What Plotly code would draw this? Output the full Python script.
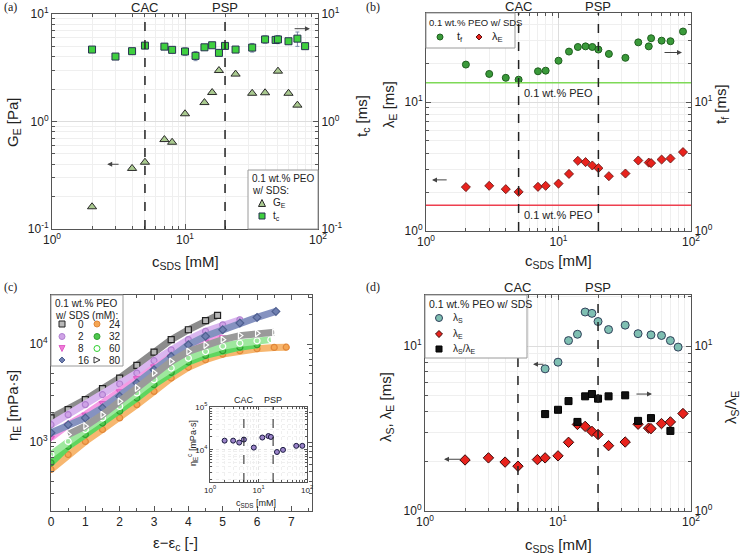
import math
import plotly.graph_objects as go

W, H = 740, 556

# ---------------- data (a) ----------------
a_ge_x = [2, 4, 5, 7, 8, 10, 14, 16, 18, 24, 32, 40, 50, 60, 70]
a_ge_y = [0.161, 0.366, 0.418, 0.679, 0.641, 1.18, 1.50, 1.86, 2.98, 2.76, 1.83, 1.85, 2.94, 1.83, 1.42]
a_tc_x = [2, 3, 4, 5, 7, 8, 10, 12, 14, 16, 18, 20, 24, 32, 40, 48, 50, 60, 70, 80]
a_tc_y = [4.67, 4.02, 4.51, 5.08, 4.97, 4.64, 4.48, 4.08, 4.90, 5.12, 4.35, 5.05, 4.67, 4.87, 5.80, 5.74, 5.80, 5.58, 5.90, 5.02]
a_tc_err = [0.1, 0.1, 0.1, 0.15, 0.1, 0.1, 0.35, 0.4, 0.1, 0.1, 0.1, 0.3, 0.15, 0.45, 0.45, 0.3, 0.5, 0.2, 0.9, 0.15]

# ---------------- data (b) ----------------
b_x = [2, 3, 4, 5, 7, 8, 10, 12, 14, 16, 18, 20, 24, 32, 40, 48, 50, 60, 70, 87]
b_tf = [19.5, 16.5, 15.4, 14.9, 17.3, 17.5, 20.9, 24.6, 26.7, 27.0, 26.7, 25.5, 23.6, 22.0, 29.0, 27.0, 31.2, 29.9, 29.6, 35.2]
b_lamE = [2.19, 2.24, 2.11, 2.01, 2.20, 2.24, 2.33, 2.77, 3.50, 3.42, 3.22, 3.07, 2.66, 2.79, 3.52, 3.39, 3.36, 3.58, 3.65, 4.09]
b_peo_tf = 14.1
b_peo_lamE = 1.58

# ---------------- data (c) ----------------
c_x_0 = [0, 0.5, 1, 1.5, 2, 2.5, 3, 3.5, 4, 4.5, 4.85]
c_y_0 = [1770, 2150, 2720, 3520, 4510, 6070, 8300, 11100, 14000, 17300, 19600]
c_x_2 = [0, 0.5, 1, 1.5, 2, 2.5, 3, 3.5, 4, 4.5, 5, 5.5]
c_y_2 = [1510, 1910, 2420, 3050, 3920, 5070, 6770, 8750, 11100, 13500, 15700, 17700]
c_x_8 = [0, 0.5, 1, 1.5, 2, 2.5, 3, 3.5, 4, 4.5, 5]
c_y_8 = [1110, 1510, 1910, 2510, 3300, 4500, 5930, 7500, 9100, 10600, 11700]
c_x_16 = [0, 0.5, 1, 1.5, 2, 2.5, 3, 3.5, 4, 4.5, 5, 5.5, 6, 6.55]
c_y_16 = [1250, 1510, 1770, 2240, 2940, 4010, 5480, 7500, 9850, 12000, 14000, 16400, 18700, 21500]
c_x_24 = [0, 0.5, 1, 1.5, 2, 2.5, 3, 3.5, 4, 4.5, 5, 5.5, 6, 6.5, 6.85]
c_y_24 = [528, 750, 1020, 1350, 1770, 2420, 3300, 4510, 5800, 6930, 7900, 8550, 8970, 9250, 9300]
c_x_32 = [0, 0.5, 1, 1.5, 2, 2.5, 3, 3.5, 4, 4.5, 5, 5.5, 6]
c_y_32 = [617, 910, 1200, 1570, 2070, 2820, 3860, 5150, 6560, 7670, 8550, 9300, 9850]
c_x_60 = [0, 0.5, 1, 1.5, 2, 2.5, 3, 3.5, 4, 4.5, 5, 5.5, 6, 6.4]
c_y_60 = [750, 1020, 1350, 1770, 2320, 3180, 4340, 5700, 7200, 8400, 9500, 10200, 10800, 11100]
c_x_80 = [0.5, 1, 1.5, 2, 2.5, 3, 3.5, 4, 4.5, 5, 5.5, 6, 6.5]
c_y_80 = [1200, 1460, 1910, 2610, 3570, 5070, 6660, 8400, 9800, 11100, 12200, 12900, 13200]

inset_x = [2, 3, 4, 5, 8, 12, 16, 18, 24, 32, 60, 80]
inset_y = [16400, 16400, 14800, 17400, 11300, 19400, 21000, 20000, 8900, 10000, 12400, 12400]

# ---------------- data (d) ----------------
d_lamS_x = [8, 10, 12, 14, 16, 18, 20, 24, 32, 40, 50, 60, 70, 80]
d_lamS_y = [7.28, 7.99, 10.8, 11.8, 16.1, 15.8, 14.1, 12.6, 13.4, 11.9, 11.7, 11.6, 10.8, 9.86]
d_lamE_x = [2, 3, 4, 5, 7, 8, 10, 12, 14, 16, 18, 20, 24, 32, 40, 48, 50, 60, 70, 87]
d_lamE_y = [2.04, 2.10, 1.98, 1.87, 2.05, 2.10, 2.16, 2.61, 3.35, 3.26, 3.04, 2.91, 2.49, 2.62, 3.36, 3.18, 3.16, 3.39, 3.47, 3.90]
d_ratio_x = [8, 10, 12, 14, 16, 18, 20, 24, 32, 40, 50, 70]
d_ratio_y = [3.87, 4.11, 4.64, 3.47, 4.96, 5.12, 4.80, 4.96, 5.03, 3.52, 3.66, 3.06]

CAC, PSP = 5, 20

# ---------------- helpers ----------------
def px(x):
    return x / W

def py(y):
    return 1 - y / H

FONT = "Liberation Sans, Arial, sans-serif"
AXC = "#555555"
GRID = "#dddddd"
MGRID = "#efefef"


def logax(domain, lo, hi, anchor, grid=True, tickfont=12, **kw):
    decs = range(math.floor(lo), math.ceil(hi) + 1)
    tv = [10.0 ** d for d in decs if lo - 1e-9 <= d <= hi + 1e-9]
    tt = ["10<sup>%d</sup>" % d for d in decs if lo - 1e-9 <= d <= hi + 1e-9]
    mv = [m * 10.0 ** d for d in decs for m in range(2, 10)
          if lo <= math.log10(m * 10.0 ** d) <= hi]
    ax = dict(type="log", range=[lo, hi], anchor=anchor, tickmode="array",
              tickvals=tv, ticktext=tt, ticks="inside", ticklen=5, tickcolor=AXC,
              showline=True, linecolor=AXC, linewidth=1, zeroline=False, automargin=False,
              showgrid=grid, gridcolor=GRID, gridwidth=1,
              minor=dict(tickmode="array", tickvals=mv, ticks="inside", ticklen=3,
                         tickcolor=AXC, showgrid=grid, gridcolor=MGRID),
              tickfont=dict(size=tickfont, color="#222", family=FONT))
    if domain is not None:
        ax["domain"] = domain
    ax.update(kw)
    return ax


fig = go.Figure()

# ---------- panel (a) ----------
GE_FILL, GE_EDGE = "#a9c98f", "#2a2a2a"
TC_FILL, TC_EDGE = "#3fcf3f", "#263050"
fig.add_trace(go.Scatter(x=a_ge_x, y=a_ge_y, mode="markers", showlegend=False,
                         xaxis="x", yaxis="y",
                         marker=dict(symbol="triangle-up", size=8, color=GE_FILL,
                                     line=dict(color=GE_EDGE, width=1))))
fig.add_trace(go.Scatter(x=a_tc_x, y=a_tc_y, mode="markers", showlegend=False,
                         xaxis="x", yaxis="y2",
                         error_y=dict(type="data", array=a_tc_err, color="#7a8aa8", thickness=1, width=2),
                         marker=dict(symbol="square", size=7, color=TC_FILL,
                                     line=dict(color=TC_EDGE, width=1))))

# ---------- panel (b) ----------
TF_FILL, TF_EDGE = "#3a9a3a", "#1f5f1f"
LE_FILL, LE_EDGE = "#e8231d", "#5a1010"
fig.add_trace(go.Scatter(x=b_x, y=b_tf, mode="markers", showlegend=False,
                         xaxis="x2", yaxis="y4",
                         marker=dict(symbol="circle", size=7, color=TF_FILL,
                                     line=dict(color=TF_EDGE, width=1))))
fig.add_trace(go.Scatter(x=b_x, y=b_lamE, mode="markers", showlegend=False,
                         xaxis="x2", yaxis="y3",
                         marker=dict(symbol="diamond", size=7, color=LE_FILL,
                                     line=dict(color=LE_EDGE, width=0.8))))
fig.add_trace(go.Scatter(x=[1, 100], y=[b_peo_tf, b_peo_tf], mode="lines", showlegend=False,
                         xaxis="x2", yaxis="y4", line=dict(color="#7ed957", width=1.5)))
fig.add_trace(go.Scatter(x=[1, 100], y=[b_peo_lamE, b_peo_lamE], mode="lines", showlegend=False,
                         xaxis="x2", yaxis="y3", line=dict(color="#ee3f4f", width=1.5)))

# ---------- panel (c) ----------
c_series = [
    ("0", c_x_0, c_y_0, "square", "#b8b8b8", "#222222", "#8c8c8c"),
    ("2", c_x_2, c_y_2, "circle", "#cfa3e6", "#b07fd0", "#d9b6ef"),
    ("8", c_x_8, c_y_8, "triangle-down", "#f07ad8", "#e060c8", "#f59be4"),
    ("16", c_x_16, c_y_16, "diamond", "#6f7fb0", "#4f5f90", "#8592c0"),
    ("24", c_x_24, c_y_24, "circle", "#f5a653", "#e0873a", "#f7b770"),
    ("32", c_x_32, c_y_32, "circle", "#4fc84f", "#2f9f2f", "#5fd65f"),
    ("60", c_x_60, c_y_60, "circle-open", "#ffffff", "#2fd02f", "#9ee89e"),
    ("80", c_x_80, c_y_80, "triangle-right-open", "#ffffff", "#333333", "#9a9a9a"),
]
for name, xs, ys, sym, fc, ec, lc in c_series:
    fig.add_trace(go.Scatter(x=xs, y=ys, mode="lines", showlegend=False, hoverinfo="skip",
                             xaxis="x3", yaxis="y5", line=dict(color=lc, width=7)))
    fig.add_trace(go.Scatter(x=xs, y=ys, mode="markers", showlegend=False,
                             xaxis="x3", yaxis="y5",
                             marker=dict(symbol=sym, size=6, color=fc,
                                         line=dict(color=ec, width=1.2))))

fig.add_trace(go.Scatter(x=inset_x, y=inset_y, mode="markers", showlegend=False,
                         xaxis="x5", yaxis="y8",
                         marker=dict(symbol="circle", size=5, color="#9b84c9",
                                     line=dict(color="#1a1a40", width=1))))

# ---------- panel (d) ----------
LS_FILL, LS_EDGE = "#7fbfb2", "#30405a"
LD_FILL, LD_EDGE = "#e8231d", "#3a0a0a"
RA_FILL, RA_EDGE = "#111111", "#000000"
fig.add_trace(go.Scatter(x=d_lamS_x, y=d_lamS_y, mode="markers", showlegend=False,
                         xaxis="x4", yaxis="y6",
                         marker=dict(symbol="circle", size=8, color=LS_FILL,
                                     line=dict(color=LS_EDGE, width=1))))
fig.add_trace(go.Scatter(x=d_lamE_x, y=d_lamE_y, mode="markers", showlegend=False,
                         xaxis="x4", yaxis="y6",
                         marker=dict(symbol="diamond", size=8, color=LD_FILL,
                                     line=dict(color=LD_EDGE, width=1))))
fig.add_trace(go.Scatter(x=d_ratio_x, y=d_ratio_y, mode="markers", showlegend=False,
                         xaxis="x4", yaxis="y7",
                         marker=dict(symbol="square", size=7, color=RA_FILL,
                                     line=dict(color=RA_EDGE, width=1))))

# ---------- axes ----------
dom_a_x = [px(52), px(318)]; dom_a_y = [py(229), py(14)]
dom_b_x = [px(426), px(691)]; dom_b_y = [py(231), py(13)]
dom_c_x = [px(51), px(312)]; dom_c_y = [py(511), py(295)]
dom_d_x = [px(425), px(691)]; dom_d_y = [py(511), py(295)]
dom_i_x = [px(210), px(307)]; dom_i_y = [py(482), py(407)]

layout = dict(
    width=W, height=H, margin=dict(l=0, r=0, t=0, b=0, pad=0, autoexpand=False),
    paper_bgcolor="white", plot_bgcolor="white", showlegend=False,
    font=dict(family=FONT, color="#222"),
    xaxis=logax(dom_a_x, 0, 2, "y", mirror="ticks"),
    yaxis=logax(dom_a_y, -1, 1, "x"),
    yaxis2=logax(None, -1, 1, "x", grid=False, overlaying="y", side="right"),
    xaxis2=logax(dom_b_x, 0, 2, "y3", mirror="ticks"),
    yaxis3=logax(dom_b_y, 0, 1.69, "x2"),
    yaxis4=logax(None, 0, 1.69, "x2", grid=False, overlaying="y3", side="right"),
    xaxis3=dict(domain=dom_c_x, anchor="y5", range=[0, 7.6], tickvals=[0, 1, 2, 3, 4, 5, 6, 7],
                ticks="inside", ticklen=5, tickcolor=AXC, showline=True, linecolor=AXC,
                mirror="ticks", showgrid=False, zeroline=False, automargin=False,
                minor=dict(dtick=0.5, ticks="inside", ticklen=3, tickcolor=AXC),
                tickfont=dict(size=12, family=FONT, color="#222")),
    yaxis5=logax(dom_c_y, 2.3, 4.5, "x3", grid=False, mirror="ticks"),
    xaxis4=logax(dom_d_x, 0, 2, "y6", mirror="ticks"),
    yaxis6=logax(dom_d_y, 0, 1.31, "x4"),
    yaxis7=logax(None, 0, 1.31, "x4", grid=False, overlaying="y6", side="right"),
    xaxis5=logax(dom_i_x, 0, 2, "y8", mirror="ticks", tickfont=8),
    yaxis8=logax(dom_i_y, 3.25, 5, "x5", mirror="ticks", tickfont=8),
)
for k in ["xaxis5", "yaxis8"]:
    layout[k]["ticklen"] = 3
    layout[k]["minor"]["ticklen"] = 2
    layout[k]["gridcolor"] = "#e4e4e4"
    layout[k]["griddash"] = "dot"
    layout[k]["minor"]["griddash"] = "dot"

shapes = []
ann = []
for xa, ya in [("x", "y"), ("x2", "y3"), ("x4", "y6"), ("x5", "y8")]:
    w = 1.0 if xa == "x5" else 1.5
    for v in (CAC, PSP):
        shapes.append(dict(type="line", xref=xa, yref=ya + " domain", x0=v, x1=v, y0=0, y1=1,
                           line=dict(color="#222", width=w, dash="dash")))


def ptext(t, x, y, size=15, angle=0, anchor="center"):
    ann.append(dict(text=t, xref="paper", yref="paper", x=px(x), y=py(y), xanchor=anchor,
                    yanchor="middle", showarrow=False, textangle=angle,
                    font=dict(size=size, family=FONT, color="#222")))


# axis titles
ptext("c<sub>SDS</sub> [mM]", 185, 262)
ptext("G<sub>E</sub> [Pa]", 14, 122, angle=-90)
ptext("t<sub>c</sub> [ms]", 362, 116, angle=-90)
ptext("c<sub>SDS</sub> [mM]", 558, 261)
ptext("λ<sub>E</sub> [ms]", 390, 104, angle=-90)
ptext("t<sub>f</sub> [ms]", 722, 104, angle=-90)
ptext("ε−ε<sub>c</sub> [-]", 175, 543)
ptext("η<sub>E</sub> [mPa·s]", 13, 406, angle=-90)
ptext("c<sub>SDS</sub> [mM]", 558, 545)
ptext("λ<sub>S</sub>, λ<sub>E</sub> [ms]", 386, 407, angle=-90)
ptext("λ<sub>S</sub>/λ<sub>E</sub>", 731, 408, angle=-90)
ptext("c<sub>SDS</sub> [mM]", 256, 503, size=9)
ptext("η<sub>E</sub><sup>c</sup> [mPa·s]", 192, 443, size=9, angle=-90)

# ---------- hand-built legends (boxes, key symbols, texts) ----------
def box(x0, y0, x1, y1):
    shapes.append(dict(type="rect", xref="paper", yref="paper", x0=px(x0), x1=px(x1),
                       y0=py(y1), y1=py(y0), line=dict(color="#9a9a9a", width=1),
                       fillcolor="white", layer="above"))


def key(sym, cx, cy, size, fill, edge, lw=1):
    hx, hy = size / 2 / W, size / 2 / H
    X, Y = px(cx), py(cy)
    base = dict(xref="paper", yref="paper", fillcolor=fill, line=dict(color=edge, width=lw), layer="above")
    if sym == "square":
        shapes.append(dict(type="rect", x0=X - hx, x1=X + hx, y0=Y - hy, y1=Y + hy, **base))
    elif sym == "circle":
        shapes.append(dict(type="circle", x0=X - hx, x1=X + hx, y0=Y - hy, y1=Y + hy, **base))
    else:
        if sym == "triangle-up":
            pts = [(X, Y + hy), (X + hx, Y - hy), (X - hx, Y - hy)]
        elif sym == "triangle-down":
            pts = [(X, Y - hy), (X + hx, Y + hy), (X - hx, Y + hy)]
        elif sym == "triangle-right":
            pts = [(X + hx, Y), (X - hx, Y + hy), (X - hx, Y - hy)]
        else:  # diamond
            pts = [(X, Y + hy), (X + hx, Y), (X, Y - hy), (X - hx, Y)]
        path = "M " + " L ".join("%.5f,%.5f" % p for p in pts) + " Z"
        shapes.append(dict(type="path", path=path, **base))


def ltext(t, x, y, size=10):
    ptext(t, x, y, size=size, anchor="left")


# (a)
box(248, 170, 318, 229)
ltext("0.1 wt.% PEO", 250, 178)
ltext("w/ SDS:", 250, 190)
key("triangle-up", 262, 203, 7, GE_FILL, GE_EDGE)
ltext("G<sub>E</sub>", 271, 203)
key("square", 262, 216, 6, TC_FILL, TC_EDGE)
ltext("t<sub>c</sub>", 271, 216)

# (b)
box(426, 13, 515, 48)
ltext("0.1 wt.% PEO w/ SDS", 427, 23, 9.5)
key("circle", 440, 37, 6, TF_FILL, TF_EDGE)
ltext("t<sub>f</sub>", 455, 37, 11)
key("diamond", 479, 37, 6, LE_FILL, LE_EDGE)
ltext("λ<sub>E</sub>", 490, 37, 11)

# (c)
box(51, 295, 123, 366)
ltext("0.1 wt.% PEO", 53, 303)
ltext("w/ SDS (mM):", 53, 315)
c_keys = [("square", "#b8b8b8", "#222222"), ("circle", "#cfa3e6", "#b07fd0"),
          ("triangle-down", "#f07ad8", "#e060c8"), ("diamond", "#6f7fb0", "#4f5f90"),
          ("circle", "#f5a653", "#e0873a"), ("circle", "#4fc84f", "#2f9f2f"),
          ("circle", "#ffffff", "#2fd02f"), ("triangle-right", "#ffffff", "#333333")]
rows = [324, 336.5, 348.5, 360]
for i, (name, *_rest) in enumerate(c_series):
    col, row = divmod(i, 4)
    kx = 62 if col == 0 else 97
    tx = 76 if col == 0 else 107
    sym, fc, ec = c_keys[i]
    key(sym, kx, rows[row], 6, fc, ec)
    ltext(name, tx, rows[row], 10)

# (d)
box(425, 295, 527, 358)
ltext("0.1 wt.% PEO w/ SDS", 427, 304, 10.5)
key("circle", 439, 318, 7, LS_FILL, LS_EDGE)
ltext("λ<sub>S</sub>", 451, 318)
key("diamond", 439, 334, 7, LD_FILL, LD_EDGE)
ltext("λ<sub>E</sub>", 451, 334)
key("square", 439, 349, 6, RA_FILL, RA_EDGE)
ltext("λ<sub>S</sub>/λ<sub>E</sub>", 451, 349)

layout["shapes"] = shapes

# panel labels
for t, x, y in [("(a)", 2, 7), ("(b)", 364, 7), ("(c)", 2, 287), ("(d)", 364, 287)]:
    ann.append(dict(text=t, xref="paper", yref="paper", x=px(x), y=py(y), xanchor="left",
                    yanchor="middle", showarrow=False,
                    font=dict(size=12, family="Liberation Serif, Times New Roman, serif", color="#222")))
# CAC/PSP labels
for xa, ytop, fs in [("x", 7, 13), ("x2", 6, 13), ("x4", 287, 13), ("x5", 400, 9)]:
    for v, t in ((CAC, "CAC"), (PSP, "PSP")):
        ann.append(dict(text=t, xref=xa, yref="paper", x=math.log10(v), y=py(ytop),
                        showarrow=False, yanchor="middle", font=dict(size=fs, family=FONT, color="#222")))
# PEO reference labels (b)
ann.append(dict(text="0.1 wt.% PEO", xref="x2", yref="y4", x=math.log10(10), y=math.log10(b_peo_tf),
                yanchor="top", yshift=-2, showarrow=False, font=dict(size=11, family=FONT, color="#222")))
ann.append(dict(text="0.1 wt.% PEO", xref="x2", yref="y3", x=math.log10(10), y=math.log10(b_peo_lamE),
                yanchor="top", yshift=-2, showarrow=False, font=dict(size=11, family=FONT, color="#222")))


def arrow(xa, ya, x_tail, x_head, yv):
    return dict(text="", xref=xa, yref=ya, axref=xa, ayref=ya,
                x=math.log10(x_head), y=math.log10(yv), ax=math.log10(x_tail), ay=math.log10(yv),
                showarrow=True, arrowhead=2, arrowsize=1, arrowwidth=1, arrowcolor="#444")


ann.append(arrow("x", "y", 3.25, 2.6, 0.4))
ann.append(arrow("x", "y2", 65, 87, 7.3))
ann.append(arrow("x2", "y3", 1.47, 1.11, 2.49))
ann.append(arrow("x2", "y4", 61.5, 85.5, 24.2))
ann.append(arrow("x4", "y6", 7.98, 6.49, 7.76))
ann.append(arrow("x4", "y6", 1.9, 1.39, 2.06))
ann.append(arrow("x4", "y7", 37.9, 50.9, 5.12))
layout["annotations"] = ann

fig.update_layout(**layout)
fig.write_html("out.html", config={"displayModeBar": False},
               post_script="document.body.style.margin='0';document.body.style.overflow='hidden';")
